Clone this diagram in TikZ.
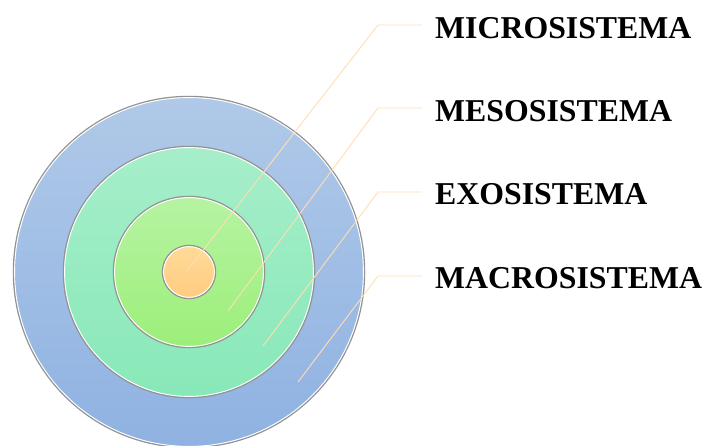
\documentclass[tikz,border=0pt]{standalone}
\usepackage{fontspec}
\setmainfont{Liberation Serif}
\begin{document}
\begin{tikzpicture}[x=1pt,y=-1pt,
  ring/.style={draw=gray!85, line width=1.3pt},
  rim/.style={draw=white, line width=0.9pt},
  leader/.style={draw={rgb,255:red,255;green,222;blue,178}, line width=0.9pt},
  lbl/.style={anchor=west, font=\bfseries\fontsize{31.8}{32}\selectfont, inner sep=0pt}]
\useasboundingbox (0,0) rectangle (703,446);
\definecolor{bA}{RGB}{176,201,232}\definecolor{bB}{RGB}{143,178,226}
\definecolor{gA}{RGB}{166,238,202}\definecolor{gB}{RGB}{136,232,184}
\definecolor{lA}{RGB}{182,243,162}\definecolor{lB}{RGB}{156,239,122}
\definecolor{oA}{RGB}{255,218,152}\definecolor{oB}{RGB}{255,204,128}
\coordinate (c) at (189,272);
\shade[top color=bA, bottom color=bB] (c) circle (175);
\draw[ring] (c) circle (175.6); \draw[rim] (c) circle (174.4);
\shade[top color=gA, bottom color=gB] (c) circle (125);
\draw[ring] (c) circle (125.6); \draw[rim] (c) circle (124.4);
\shade[top color=lA, bottom color=lB] (c) circle (75);
\draw[ring] (c) circle (75.6); \draw[rim] (c) circle (74.4);
\shade[top color=oA, bottom color=oB] (c) circle (26);
\draw[ring] (c) circle (26.6); \draw[rim] (c) circle (25.4);
\coordinate (p1) at (187,271);
\coordinate (p2) at (228,311);
\coordinate (p3) at (263,346);
\coordinate (p4) at (298,382);
\coordinate (k1) at (378,25); \coordinate (e1) at (422,25);
\coordinate (k2) at (378,108); \coordinate (e2) at (422,108);
\coordinate (k3) at (378,192); \coordinate (e3) at (422,192);
\coordinate (k4) at (378,276); \coordinate (e4) at (422,276);
\draw[leader] (p1) -- (k1) -- (e1);
\draw[leader] (p2) -- (k2) -- (e2);
\draw[leader] (p3) -- (k3) -- (e3);
\draw[leader] (p4) -- (k4) -- (e4);
\node[lbl] (t1) at (435,28) {MICROSISTEMA};
\node[lbl] (t2) at (435,111) {MESOSISTEMA};
\node[lbl] (t3) at (435,194) {EXOSISTEMA};
\node[lbl] (t4) at (435,278) {MACROSISTEMA};
\end{tikzpicture}
\end{document}
